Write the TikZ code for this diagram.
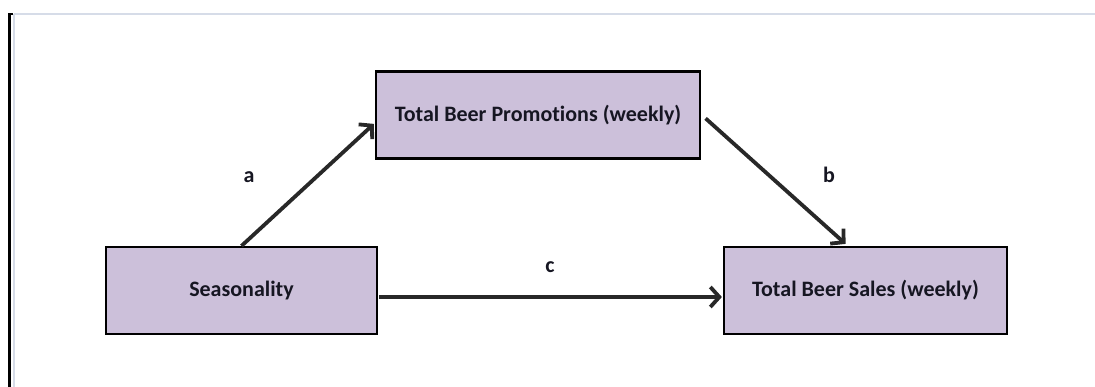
\documentclass[tikz,border=0pt]{standalone}
\usepackage{fontspec}
\setmainfont{Carlito}[Ligatures=NoCommon]
\usetikzlibrary{arrows.meta,calc}
\definecolor{boxfill}{RGB}{204,192,218}
\definecolor{arrowgray}{RGB}{40,40,40}
\definecolor{frameline}{RGB}{214,220,232}
\definecolor{boxtext}{RGB}{22,22,34}

\begin{document}
\begin{tikzpicture}[x=1pt,y=1pt,yscale=-1,xscale=1,
  varbox/.style={draw=black,line width=2.2pt,fill=boxfill,minimum height=87pt,inner sep=0pt,text=boxtext,font=\fontsize{22}{26}\selectfont\bfseries},
  link/.style={draw=arrowgray,line width=3.8pt,-{Straight Barb[length=9pt,width=20pt]}},
  pathlabel/.style={inner sep=0pt,text=boxtext,font=\fontsize{22}{26}\selectfont\bfseries}]
\useasboundingbox (0,0) rectangle (1095,387);

%Frame lines
\draw [frameline,line width=1.6pt] (14,14) -- (1095,14) ;
\draw [frameline,line width=1.6pt] (14,14) -- (14,387) ;
\draw [black,line width=2.6pt] (13,14) -- (9.5,14) -- (9.5,387) ;

%Shape: Rectangle [promo]
\node (promo) [varbox,minimum width=324pt] at (538,115) {Total Beer Promotions (weekly)};
%Shape: Rectangle [season]
\node (season) [varbox,minimum width=271pt] at (241.5,290.5) {Seasonality};
%Shape: Rectangle [sales]
\node (sales) [varbox,minimum width=283pt] at (865.5,290.5) {Total Beer Sales (weekly)};

%Straight Lines [a]
\draw [link] (season.north) -- ($(promo.north west)+(-1,53.5)$) ;
%Straight Lines [b]
\draw [link] ($(promo.north east)+(4.5,48)$) -- ($(sales.north)+(-20,-2)$) ;
%Straight Lines [c]
\draw [link] ($(season.east)+(1,6.5)$) -- ($(sales.west)+(-1,6.5)$) ;

% Text Node
\node (lblA) [pathlabel] at (249,177) {a};
% Text Node
\node (lblB) [pathlabel] at (829,175) {b};
% Text Node
\node (lblC) [pathlabel] at (550,267) {c};

\end{tikzpicture}
\end{document}
